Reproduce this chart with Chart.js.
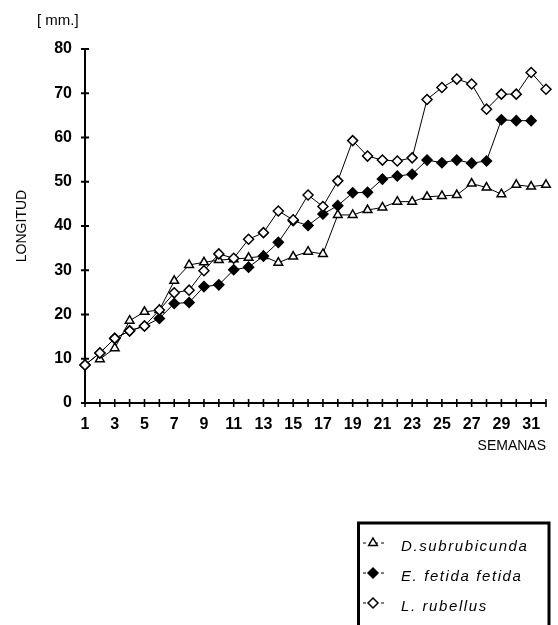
<!DOCTYPE html>
<html><head><meta charset="utf-8">
<script src="https://cdn.jsdelivr.net/npm/chart.js@4/dist/chart.umd.min.js"></script>
<style>html,body{margin:0;padding:0;background:#fff;}#wrap{width:558px;height:625px;}</style>
</head><body><div id="wrap"><canvas id="c" width="558" height="625"></canvas></div>
<script>
// ---- data ----
const weeks = [1,2,3,4,5,6,7,8,9,10,11,12,13,14,15,16,17,18,19,20,21,22,23,24,25,26,27,28,29,30,31,32];
const xTickLabels = ['1','3','5','7','9','11','13','15','17','19','21','23','25','27','29','31'];
const yTickValues = [0,10,20,30,40,50,60,70,80];
const seriesNames = ['D.subrubicunda','E. fetida fetida','L. rubellus'];
const dSubrubicunda = [null,9.9,12.4,18.6,20.6,21.0,27.6,31.2,31.8,32.3,32.5,32.8,33.2,31.7,33.1,34.2,33.7,42.5,42.5,43.6,44.2,45.5,45.5,46.6,46.8,47.0,49.6,48.7,47.2,49.3,48.9,49.3];
const eFetida = [8.6,11.3,14.6,16.3,17.4,19.1,22.5,22.7,26.3,26.7,30.1,30.7,33.2,36.3,41.2,40.1,42.7,44.6,47.5,47.6,50.6,51.3,51.7,54.9,54.3,54.9,54.2,54.7,64.0,63.8,63.8,null];
const lRubellus = [8.6,11.3,14.6,16.3,17.4,21.0,24.9,25.5,29.9,33.7,32.7,37.0,38.5,43.4,41.4,47.0,44.4,50.2,59.3,55.8,54.9,54.7,55.4,68.6,71.3,73.2,72.1,66.4,69.8,69.8,74.7,70.9];

const toPts = arr => weeks.map((w,i) => ({x:w, y:arr[i]}));
const FONT = "'Liberation Sans', Arial, sans-serif";

const axesPlugin = {
  id: 'axesPlugin',
  beforeDatasetsDraw(chart) {
    const {ctx, scales:{x, y}} = chart;
    const x0 = x.getPixelForValue(weeks[0]);
    const y0 = y.getPixelForValue(0);
    ctx.save();
    ctx.strokeStyle = '#000';
    ctx.lineWidth = 2;
    ctx.beginPath();
    ctx.moveTo(x0, y.getPixelForValue(80));
    ctx.lineTo(x0, y0);
    ctx.stroke();
    ctx.beginPath();
    ctx.moveTo(x0 - 2, y0);
    ctx.lineTo(x.getPixelForValue(weeks[weeks.length-1]), y0);
    ctx.stroke();
    yTickValues.forEach(v => {
      const py = y.getPixelForValue(v);
      ctx.beginPath(); ctx.moveTo(x0 - 4, py); ctx.lineTo(x0 + 4, py); ctx.stroke();
    });
    ctx.lineWidth = 1.6;
    weeks.forEach(w => {
      const px = x.getPixelForValue(w);
      ctx.beginPath(); ctx.moveTo(px, y0 - 4); ctx.lineTo(px, y0 + 4); ctx.stroke();
    });
    ctx.restore();
  },
  afterDraw(chart) {
    const {ctx} = chart;
    ctx.save();
    ctx.fillStyle = '#000';
    ctx.font = "15px " + FONT;
    ctx.textBaseline = 'middle';
    ctx.textAlign = 'left';
    ctx.fillText('[ mm.]', 37, 21);
    // legend box
    ctx.strokeStyle = '#000';
    ctx.lineWidth = 3;
    ctx.strokeRect(358.5, 523, 190.5, 120);
    const rows = [547, 577, 607];
    const mx = 373;
    ctx.lineWidth = 1;
    rows.forEach((ry, i) => {
      const my = ry - 4;
      ctx.setLineDash([3, 3]);
      ctx.beginPath(); ctx.moveTo(363, my); ctx.lineTo(385, my); ctx.stroke();
      ctx.setLineDash([]);
      ctx.lineWidth = 1.5;
      ctx.beginPath();
      if (i === 0) {
        ctx.moveTo(mx, my - 5); ctx.lineTo(mx + 4.3, my + 2.5); ctx.lineTo(mx - 4.3, my + 2.5); ctx.closePath();
        ctx.fillStyle = '#fff';
      } else {
        ctx.moveTo(mx - 5, my); ctx.lineTo(mx, my - 5); ctx.lineTo(mx + 5, my); ctx.lineTo(mx, my + 5); ctx.closePath();
        ctx.fillStyle = i === 1 ? '#000' : '#fff';
      }
      ctx.fill(); ctx.stroke();
      ctx.lineWidth = 1;
      ctx.fillStyle = '#000';
      ctx.font = "italic 15px " + FONT;
      ctx.letterSpacing = '1.6px';
      ctx.fillText(seriesNames[i], 401, ry);
      ctx.letterSpacing = '0px';
    });
    ctx.restore();
  }
};

const common = {
  borderColor: '#000', borderWidth: 1, pointBorderColor: '#000', pointBorderWidth: 1.5,
  pointRadius: 5, pointHoverRadius: 5, tension: 0, spanGaps: false, fill: false, clip: false
};

new Chart(document.getElementById('c'), {
  type: 'line',
  data: {
    datasets: [
      Object.assign({label: seriesNames[2], data: toPts(lRubellus), pointStyle: 'rectRot', pointBackgroundColor: '#fff', order: 0}, common),
      Object.assign({label: seriesNames[1], data: toPts(eFetida), pointStyle: 'rectRot', pointBackgroundColor: '#000', order: 1}, common),
      Object.assign({label: seriesNames[0], data: toPts(dSubrubicunda), pointStyle: 'triangle', pointBackgroundColor: '#fff', order: 2}, common)
    ]
  },
  options: {
    responsive: false, animation: false, devicePixelRatio: 1,
    layout: {padding: {left: 0, top: 49, right: 9, bottom: 162}},
    plugins: {legend: {display: false}, tooltip: {enabled: false}},
    scales: {
      x: {
        type: 'linear', min: 1, max: 32,
        grid: {display: false, drawTicks: false}, border: {display: false},
        ticks: {stepSize: 1, autoSkip: false, maxRotation: 0, padding: 12, color: '#000',
          font: {family: FONT, size: 16, weight: 'bold'},
          callback: v => xTickLabels.includes(String(v)) ? String(v) : ''},
        title: {display: true, text: 'SEMANAS', align: 'end', color: '#000', font: {family: FONT, size: 14}, padding: {top: 0, bottom: 8}},
        afterFit: s => { s.height = 60; }
      },
      y: {
        min: 0, max: 80,
        grid: {display: false, drawTicks: false}, border: {display: false},
        ticks: {stepSize: 10, padding: 13, color: '#000', font: {family: FONT, size: 16, weight: 'bold'}},
        title: {display: true, text: 'LONGITUD', color: '#000', font: {family: FONT, size: 14}, padding: {top: 14, bottom: 0}},
        afterFit: s => { s.width = 85; }
      }
    }
  },
  plugins: [axesPlugin]
});
</script></body></html>
